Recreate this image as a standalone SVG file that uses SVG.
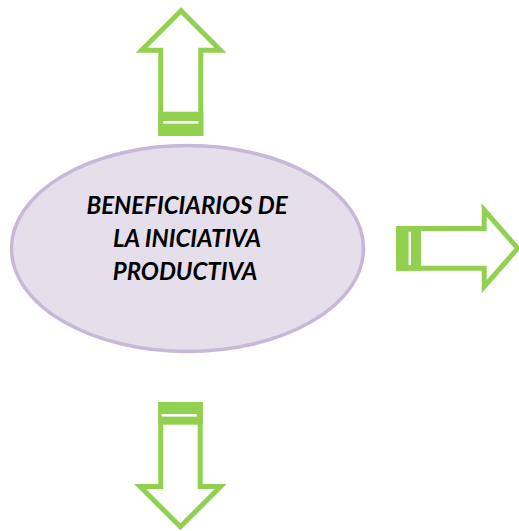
<svg xmlns="http://www.w3.org/2000/svg" width="519" height="531" viewBox="0 0 519 531">
<style>
.arrow{fill:#ffffff;stroke:#92D050;stroke-width:5;stroke-linejoin:miter;stroke-miterlimit:10}
.tab{fill:#92D050}
.stripe{fill:#ffffff}
.label{font-family:Lato,"Liberation Sans",sans-serif;font-weight:bold;font-style:italic;font-size:24px;fill:#000000;text-anchor:middle}
</style>
<rect width="519" height="531" fill="#ffffff"/>
<g id="center-node">
<ellipse cx="187.5" cy="248.5" rx="176" ry="103" fill="#E5DFEC" stroke="#C7B8D9" stroke-width="3.5"/>
<text class="label" x="187" y="214">BENEFICIARIOS DE</text>
<text class="label" x="187" y="246.5">LA INICIATIVA</text>
<text class="label" x="185" y="279.5">PRODUCTIVA</text>
</g>
<g id="connectors">
<g id="arrow-up">
<polygon class="arrow" points="181,10.8 220.4,50.2 200.8,50.2 200.8,133.5 160.8,133.5 160.8,50.2 141.6,50.2"/>
<rect class="tab" x="158.3" y="111.7" width="45" height="24.3"/>
<rect class="stripe" x="163.3" y="121" width="35" height="2.6"/>
</g>
<g id="arrow-right">
<polygon class="arrow" points="517.7,248.3 484.2,286.6 484.2,268.2 398.5,268.2 398.5,228.5 484.2,228.5 484.2,210"/>
<rect class="tab" x="396" y="226" width="25" height="44.7"/>
<rect class="stripe" x="408.6" y="231.7" width="2.4" height="33.3"/>
</g>
<g id="arrow-down">
<polygon class="arrow" points="180.35,526.8 220.66,486.5 200.2,486.5 200.2,404.5 160.8,404.5 160.8,486.5 140.04,486.5"/>
<rect class="tab" x="158.3" y="402" width="44.4" height="22.7"/>
<rect class="stripe" x="161.7" y="414" width="35" height="2.6"/>
</g>
</g>
</svg>
